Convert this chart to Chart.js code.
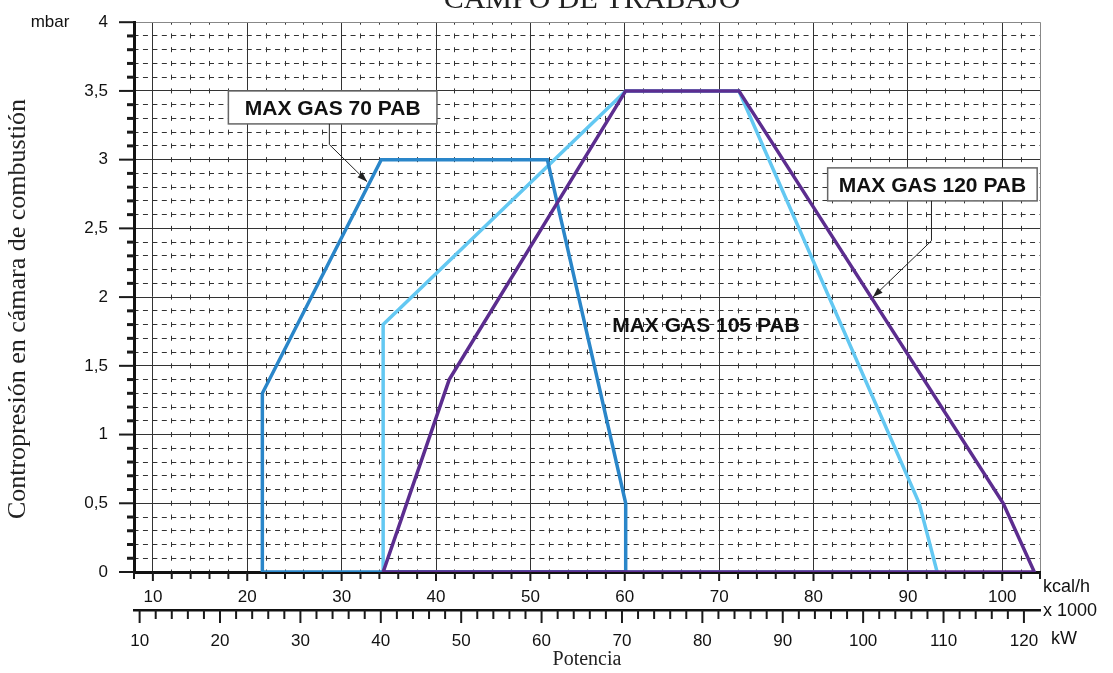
<!DOCTYPE html>
<html>
<head>
<meta charset="utf-8">
<title>Campo de trabajo</title>
<script src="https://cdn.jsdelivr.net/npm/chart.js@4.4.1/dist/chart.umd.min.js"></script>
<style>
  html, body { margin: 0; padding: 0; background: #fff; }
  #caja { width: 1113px; height: 673px; }
</style>
</head>
<body>
<div id="caja"><canvas id="grafico"></canvas></div>
<script>
// Potencia en kcal/h x 1000 (eje principal) y contrapresion en mbar
const gas70Kcal  = [21.6, 21.6, 34.2, 51.8, 60.1, 60.1, 21.6];
const gas70Mbar  = [0,    1.3,  3.0,  3.0,  0.5,  0,    0];
const gas105Kcal = [34.4, 34.4, 60.1, 72.1, 91.2, 93.1, 34.4];
const gas105Mbar = [0,    1.8,  3.5,  3.5,  0.5,  0,    0];
const gas120Kcal = [34.4, 41.4, 60.1, 72.1, 100.1, 103.4, 34.4];
const gas120Mbar = [0,    1.4,  3.5,  3.5,  0.5,   0,     0];

const nombres = ['MAX GAS 70 PAB', 'MAX GAS 105 PAB', 'MAX GAS 120 PAB'];

// rotulos de los ejes
const etiquetasMbar = ['0', '0,5', '1', '1,5', '2', '2,5', '3', '3,5', '4'];
const etiquetasKcal = [10, 20, 30, 40, 50, 60, 70, 80, 90, 100];
const etiquetasKw   = [10, 20, 30, 40, 50, 60, 70, 80, 90, 100, 110, 120];

// llamadas con caja (en unidades de los ejes)
const llamadas = [
  { texto: nombres[0], caja: [18, 40.1, 3.5, 3.26], guia: [[28.7, 3.26], [28.7, 3.11], [32.7, 2.84]] },
  { texto: nombres[2], caja: [81.5, 103.7, 2.94, 2.70], guia: [[92.5, 2.70], [92.5, 2.41], [86.3, 2.0]] }
];
const rotulo105 = { texto: nombres[1], x: 68.6, y: 1.79 };

const SANS = "'Liberation Sans', Arial, sans-serif";
const SERIF = "'Liberation Serif', 'Times New Roman', serif";

const esMayorX = v => Math.abs(v / 10 - Math.round(v / 10)) < 1e-6;
const esMayorY = v => Math.abs(v * 2 - Math.round(v * 2)) < 1e-6;
const puntos = (xs, ys) => xs.map((x, i) => ({ x: x, y: ys[i] }));

// divisiones fijas: cada 2 en potencia, cada 0,1 en mbar
const divisiones = (desde, hasta, paso) => {
  const r = [];
  const n = Math.round((hasta - desde) / paso);
  for (let i = 0; i <= n; i++) r.push({ value: Math.round((desde + i * paso) * 1000) / 1000 });
  return r;
};

// trazos del cuadriculado: un trazo por cada 0,1 mbar en las verticales
// y uno por cada unidad de potencia en las horizontales
const pasoVertical = c => (c.chart.chartArea.bottom - c.chart.chartArea.top) / 40;
const pasoHorizontal = c => (c.chart.chartArea.right - c.chart.chartArea.left) / 96;

// marcas de los ejes con dos largos distintos
const marcas = {
  id: 'marcas',
  afterDraw(chart) {
    const { ctx, scales } = chart;
    ctx.save();
    ctx.strokeStyle = '#1a1a1a';
    const sy = scales.y;
    sy.ticks.forEach(t => {
      const py = sy.getPixelForValue(t.value);
      const mayor = esMayorY(t.value);
      ctx.lineWidth = mayor ? 2 : 3;
      ctx.beginPath();
      ctx.moveTo(sy.right - (mayor ? 15 : 7), py);
      ctx.lineTo(sy.right, py);
      ctx.stroke();
    });
    const sx = scales.x;
    sx.ticks.forEach(t => {
      const px = sx.getPixelForValue(t.value);
      ctx.lineWidth = 2;
      ctx.beginPath();
      ctx.moveTo(px, sx.top);
      ctx.lineTo(px, sx.top + (esMayorX(t.value) ? 9 : 7));
      ctx.stroke();
    });
    const sk = scales.kw;
    sk.ticks.forEach(t => {
      const px = sk.getPixelForValue(t.value);
      ctx.lineWidth = 2;
      ctx.beginPath();
      ctx.moveTo(px, sk.top);
      ctx.lineTo(px, sk.top + (esMayorX(t.value) ? 13 : 9));
      ctx.stroke();
    });
    ctx.restore();
  }
};

// cajas, flechas y textos sueltos
const rotulos = {
  id: 'rotulos',
  afterDraw(chart) {
    const { ctx, scales } = chart;
    const X = v => scales.x.getPixelForValue(v);
    const Y = v => scales.y.getPixelForValue(v);
    ctx.save();

    llamadas.forEach(l => {
      const x0 = X(l.caja[0]), x1 = X(l.caja[1]), y0 = Y(l.caja[2]), y1 = Y(l.caja[3]);
      ctx.fillStyle = '#fff';
      ctx.fillRect(x0, y0, x1 - x0, y1 - y0);
      ctx.strokeStyle = '#666';
      ctx.lineWidth = 1.5;
      ctx.strokeRect(x0, y0, x1 - x0, y1 - y0);
      ctx.fillStyle = '#111';
      ctx.font = 'bold 21px ' + SANS;
      ctx.textAlign = 'center';
      ctx.textBaseline = 'alphabetic';
      ctx.fillText(l.texto, (x0 + x1) / 2, (y0 + y1) / 2 + 7.5);

      const g = l.guia.map(p => [X(p[0]), Y(p[1])]);
      ctx.strokeStyle = '#222';
      ctx.lineWidth = 1;
      ctx.beginPath();
      ctx.moveTo(g[0][0], g[0][1]);
      for (let i = 1; i < g.length; i++) ctx.lineTo(g[i][0], g[i][1]);
      ctx.stroke();
      const a = g[g.length - 1], b = g[g.length - 2];
      const ang = Math.atan2(a[1] - b[1], a[0] - b[0]);
      ctx.fillStyle = '#222';
      ctx.beginPath();
      ctx.moveTo(a[0], a[1]);
      ctx.lineTo(a[0] - 10 * Math.cos(ang) + 3.5 * Math.sin(ang), a[1] - 10 * Math.sin(ang) - 3.5 * Math.cos(ang));
      ctx.lineTo(a[0] - 10 * Math.cos(ang) - 3.5 * Math.sin(ang), a[1] - 10 * Math.sin(ang) + 3.5 * Math.cos(ang));
      ctx.closePath();
      ctx.fill();
    });

    ctx.fillStyle = '#111';
    ctx.font = 'bold 21px ' + SANS;
    ctx.textAlign = 'center';
    ctx.textBaseline = 'middle';
    ctx.fillText(rotulo105.texto, X(rotulo105.x), Y(rotulo105.y));

    // titulo, cortado arriba como en el original
    ctx.font = '30px ' + SERIF;
    ctx.fillStyle = '#222';
    ctx.textBaseline = 'alphabetic';
    ctx.fillText('CAMPO DE TRABAJO', 592, 8);

    // titulo del eje vertical
    ctx.save();
    ctx.translate(18, 309);
    ctx.rotate(-Math.PI / 2);
    ctx.font = '26px ' + SERIF;
    ctx.textBaseline = 'middle';
    ctx.fillText('Contropresión en cámara de combustión', 0, 0);
    ctx.restore();

    ctx.font = '17px ' + SANS;
    ctx.fillStyle = '#111';
    ctx.textBaseline = 'middle';
    ctx.fillText('mbar', 50, Y(4));
    ctx.textAlign = 'left';
    ctx.font = '18px ' + SANS;
    ctx.fillText('kcal/h', 1043, 587);
    ctx.fillText('x 1000', 1043, 611);
    ctx.fillText('kW', 1051, 639);
    ctx.restore();
  }
};

const fuenteEje = { family: SANS, size: 17 };

new Chart(document.getElementById('grafico'), {
  type: 'scatter',
  data: {
    datasets: [
      { label: nombres[2], data: puntos(gas120Kcal, gas120Mbar), borderColor: '#5c2d8f' },
      { label: nombres[0], data: puntos(gas70Kcal, gas70Mbar), borderColor: '#2a86c9' },
      { label: nombres[1], data: puntos(gas105Kcal, gas105Mbar), borderColor: '#63c8f2' }
    ].map(d => Object.assign(d, { showLine: true, borderWidth: 3.5, pointRadius: 0, tension: 0, fill: false }))
  },
  options: {
    responsive: true,
    maintainAspectRatio: false,
    animation: false,
    layout: { padding: { top: 20, right: 73, bottom: 0, left: 0 } },
    plugins: { legend: { display: false }, tooltip: { enabled: false } },
    scales: {
      x: {
        type: 'linear', position: 'bottom', weight: 0, min: 8, max: 104,
        afterBuildTicks: s => { s.ticks = divisiones(8, 104, 2); },
        ticks: {
          autoSkip: false, maxRotation: 0, padding: 7, color: '#111', font: fuenteEje,
          callback: v => etiquetasKcal.includes(Math.round(v)) && esMayorX(v) ? String(Math.round(v)) : ''
        },
        grid: {
          lineWidth: 1, tickLength: 8, tickColor: 'transparent',
          color: c => (c.tick && c.tick.value === 104) ? '#888' : '#333'
        },
        border: {
          color: '#111', width: 3,
          dash: c => {
            if (!c.tick || esMayorX(c.tick.value) || c.tick.value === 104) return [];
            const p = pasoVertical(c);
            return [5, p - 5];
          },
          dashOffset: 2.5
        },
        afterFit: s => { s.height = 38; }
      },
      kw: {
        type: 'linear', position: 'bottom', weight: 1, min: 9.3, max: 122,
        afterBuildTicks: s => { s.ticks = divisiones(10, 120, 2); },
        ticks: {
          autoSkip: false, maxRotation: 0, padding: 9, color: '#111', font: fuenteEje,
          callback: v => etiquetasKw.includes(Math.round(v)) && esMayorX(v) ? String(Math.round(v)) : ''
        },
        grid: { drawOnChartArea: false, tickLength: 12, tickColor: 'transparent' },
        border: { color: '#111', width: 2.5 },
        title: { display: true, text: 'Potencia', color: '#222', font: { family: SERIF, size: 20 }, padding: { top: 0, bottom: 1 } },
        afterFit: s => { s.height = 63; }
      },
      y: {
        type: 'linear', position: 'left', min: 0, max: 4,
        afterBuildTicks: s => { s.ticks = divisiones(0, 4, 0.1); },
        ticks: {
          autoSkip: false, padding: 12, color: '#111', font: fuenteEje,
          callback: v => { const d = Math.round(v * 10); return d % 5 === 0 ? etiquetasMbar[d / 5] : ''; }
        },
        grid: {
          lineWidth: 1, tickLength: 14, tickColor: 'transparent',
          color: c => (c.tick && Math.abs(c.tick.value - 4) < 1e-6) ? '#888' : '#333'
        },
        border: {
          color: '#111', width: 3,
          dash: c => {
            if (!c.tick || esMayorY(c.tick.value)) return [];
            const p = pasoHorizontal(c);
            return [5, p - 5];
          },
          dashOffset: 2.5
        },
        afterFit: s => { s.width = 134; }
      }
    }
  },
  plugins: [marcas, rotulos]
});
</script>
</body>
</html>
